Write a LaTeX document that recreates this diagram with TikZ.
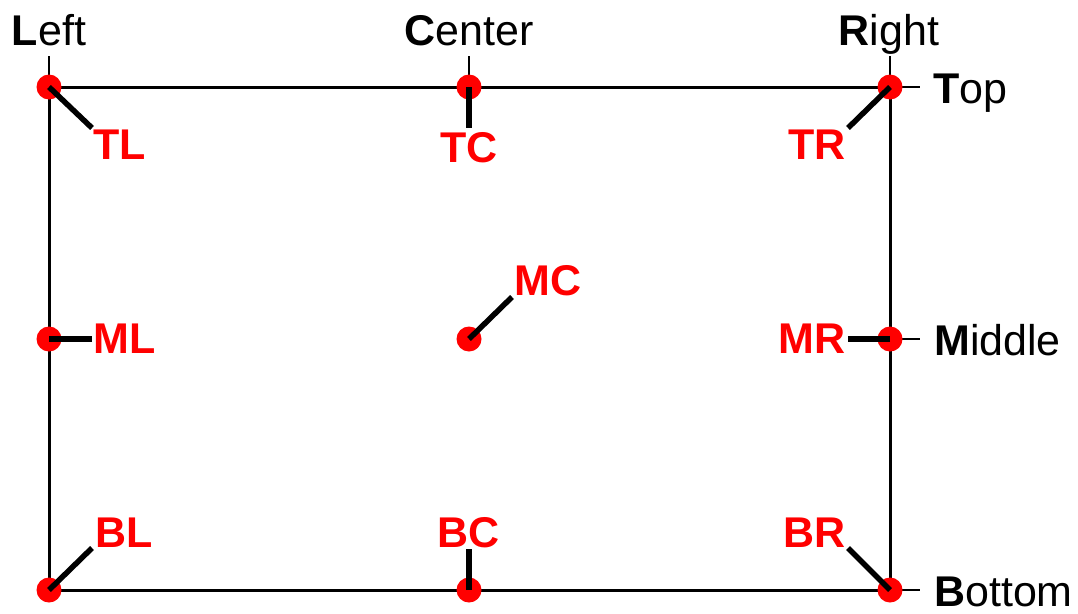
\documentclass[tikz,border=0pt]{standalone}
\usepackage{fontspec}
\setmainfont{Liberation Sans}
\begin{document}
\begin{tikzpicture}[x=1pt,y=-1pt,
  frame/.style={line width=3pt},
  tickline/.style={line width=2pt},
  callout/.style={line width=5.5pt},
  dot/.style={circle,fill=red,inner sep=0pt,minimum size=25pt},
  lab/.style={text=red,font=\fontsize{43}{43}\selectfont\bfseries,inner sep=0pt},
  side/.style={font=\fontsize{43}{43}\selectfont,inner sep=0pt}]
\useasboundingbox (0,0) rectangle (1078,613);
% anchor points
\coordinate (TL) at (49,87);
\coordinate (TC) at (469,87);
\coordinate (TR) at (890,87);
\coordinate (ML) at (49,339);
\coordinate (MC) at (469,339);
\coordinate (MR) at (890,339);
\coordinate (BL) at (49,590);
\coordinate (BC) at (469,590);
\coordinate (BR) at (890,590);
% side labels
\node[side,anchor=base] (left) at (49,45) {\textbf{L}eft};
\node[side,anchor=base] (center) at (469,45) {\textbf{C}enter};
\node[side,anchor=base] (right) at (889,45) {\textbf{R}ight};
\node[side,anchor=base west] (top) at (933,103) {\textbf{T}op};
\node[side,anchor=base west] (middle) at (934,355) {\textbf{M}iddle};
\node[side,anchor=base west] (bottom) at (934,606) {\textbf{B}ottom};
\coordinate (tkL) at (49,56);
\coordinate (tkC) at (469,56);
\coordinate (tkR) at (890,56);
\coordinate (tkT) at (920,87);
\coordinate (tkM) at (920,339);
\coordinate (tkB) at (920,590);
\draw[tickline] (TL) -- (tkL);
\draw[tickline] (TC) -- (tkC);
\draw[tickline] (TR) -- (tkR);
\draw[tickline] (TR) -- (tkT);
\draw[tickline] (MR) -- (tkM);
\draw[tickline] (BR) -- (tkB);
% frame
\draw[frame] (TL) rectangle (BR);
% dots
\foreach \p in {TL,TC,TR,ML,MC,MR,BL,BC,BR} \node[dot] (d\p) at (\p) {};
% labels
\coordinate (cTL) at (92,128);
\coordinate (cTC) at (469,128);
\coordinate (cTR) at (848,128);
\coordinate (cML) at (92,339);
\coordinate (cMC) at (512,297);
\coordinate (cMR) at (848,339);
\coordinate (cBL) at (92,548);
\coordinate (cBC) at (469,549);
\coordinate (cBR) at (848,548);
\node[lab,anchor=north west] (lTL) at (93,130) {TL};
\node[lab,anchor=north] (lTC) at (469,132) {TC};
\node[lab,anchor=north east] (lTR) at (846,130) {TR};
\node[lab,anchor=west] (lML) at (93,339) {ML};
\node[lab,anchor=south west] (lMC) at (514,296) {MC};
\node[lab,anchor=east] (lMR) at (846,339) {MR};
\node[lab,anchor=south west] (lBL) at (95,548) {BL};
\node[lab,anchor=south] (lBC) at (469,548) {BC};
\node[lab,anchor=south east] (lBR) at (846,548) {BR};
\foreach \p in {TL,TC,TR,ML,MC,MR,BL,BC,BR} \draw[callout] (d\p.center) -- (c\p);
\end{tikzpicture}
\end{document}
